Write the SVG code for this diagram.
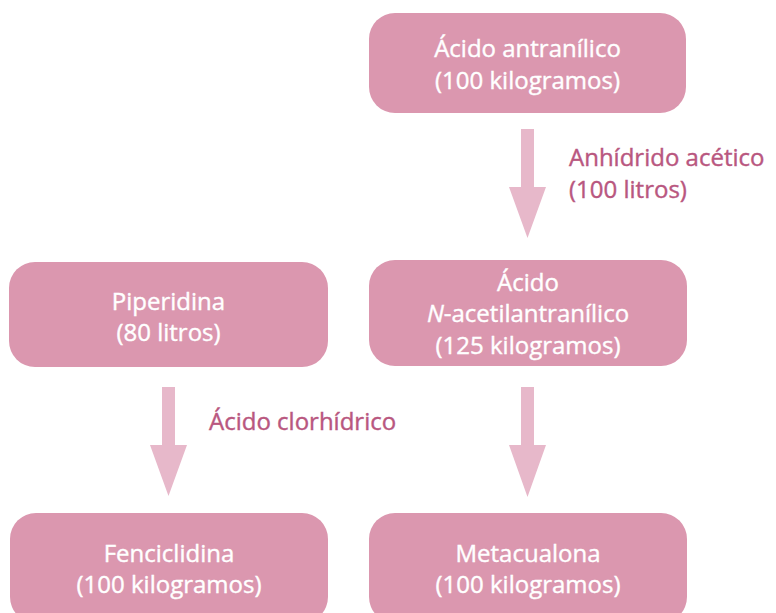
<svg xmlns="http://www.w3.org/2000/svg" width="776" height="613" viewBox="0 0 776 613">
<style>
.box{fill:#DB97AF}
.bt{font-family:"Open Sans","Noto Sans","DejaVu Sans",sans-serif;font-size:24px;fill:#ffffff;stroke:#ffffff;stroke-width:0.4;text-anchor:middle}
.lt{font-family:"Open Sans","Noto Sans","DejaVu Sans",sans-serif;font-size:24px;fill:#B9577F;stroke:#B9577F;stroke-width:0.4}
.arr{fill:#E7B8CA}
</style>
<rect width="776" height="613" fill="#ffffff"/>
<g id="connectors">
<polygon class="arr" points="521,129 534,129 534,187 546,187 527.5,238 509,187 521,187"/>
<polygon class="arr" points="162,387 175,387 175,445 187,445 168.5,496 150,445 162,445"/>
<polygon class="arr" points="521,387 534,387 534,445 546,445 527.5,497 509,445 521,445"/>
<text class="lt" x="569" y="166">Anhídrido acético</text>
<text class="lt" x="569" y="198">(100 litros)</text>
<text class="lt" x="209" y="430">Ácido clorhídrico</text>
</g>
<g id="n1">
<rect class="box" x="369" y="13" width="317" height="100" rx="26"/>
<text class="bt" x="527.5" y="57">Ácido antranílico</text>
<text class="bt" x="527.5" y="89">(100 kilogramos)</text>
</g>
<g id="n2">
<rect class="box" x="9" y="262" width="319" height="105" rx="26"/>
<text class="bt" x="168.5" y="310">Piperidina</text>
<text class="bt" x="168.5" y="341">(80 litros)</text>
</g>
<g id="n3">
<rect class="box" x="369" y="260" width="318" height="106" rx="26"/>
<text class="bt" x="528" y="291">Ácido</text>
<text class="bt" x="528" y="322"><tspan font-style="italic">N</tspan>-acetilantranílico</text>
<text class="bt" x="528" y="354">(125 kilogramos)</text>
</g>
<g id="n4">
<rect class="box" x="10" y="513" width="318" height="110" rx="26"/>
<text class="bt" x="169" y="562">Fenciclidina</text>
<text class="bt" x="169" y="593">(100 kilogramos)</text>
</g>
<g id="n5">
<rect class="box" x="369" y="513" width="318" height="110" rx="26"/>
<text class="bt" x="528" y="562">Metacualona</text>
<text class="bt" x="528" y="593">(100 kilogramos)</text>
</g>
</svg>
